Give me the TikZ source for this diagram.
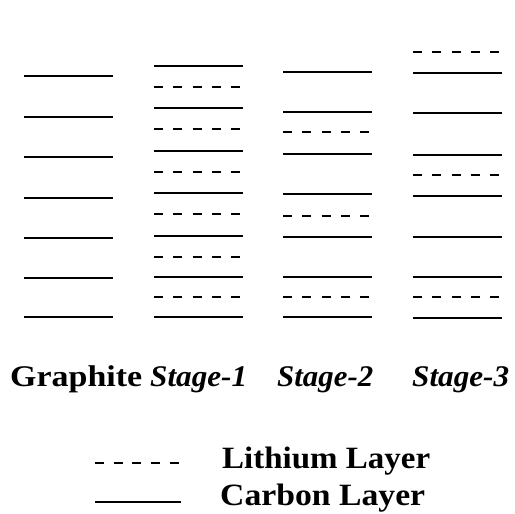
\documentclass[tikz,border=0pt]{standalone}
\usepackage{fontspec}
\usepackage{graphicx}
\setmainfont{Liberation Serif}
\tikzset{
  carbon/.style={line width=1.9pt},
  lithium/.style={line width=1.9pt, dash pattern=on 9pt off 10.3pt},
  lbl/.style={anchor=base west, inner sep=0pt, font=\fontsize{30}{30}\selectfont},
  leg/.style={anchor=base west, inner sep=0pt, font=\fontsize{31}{31}\selectfont}
}
\newcommand{\fitw}[2]{\resizebox{#1}{\height}{#2}}
\begin{document}
\begin{tikzpicture}[x=1pt,y=-1pt]
\useasboundingbox (0,0) rectangle (515,514);
% Graphite
\foreach \y in {76,117,157,198,238,278,317} \draw[carbon] (24,\y) -- (113,\y);
% Stage-1
\foreach \y in {66,108,151,193,236,277,317} \draw[carbon] (154,\y) -- (243,\y);
\foreach \y in {87,129,172,214,257,297} \draw[lithium] (154,\y) -- (242,\y);
% Stage-2
\foreach \y in {72,112,154,194,237,277,317} \draw[carbon] (283,\y) -- (372,\y);
\foreach \y in {132,216,297} \draw[lithium] (283,\y) -- (371,\y);
% Stage-3
\foreach \y in {73,113,155,196,237,277,318} \draw[carbon] (413,\y) -- (502,\y);
\foreach \y in {52,175,297} \draw[lithium] (413,\y) -- (501,\y);
% Column labels
\node[lbl] (g)  at (10,386)  {\fitw{132pt}{\bfseries Graphite}};
\node[lbl] (s1) at (150,386) {\fitw{97pt}{\bfseries\itshape Stage-1}};
\node[lbl] (s2) at (277,386) {\fitw{96pt}{\bfseries\itshape Stage-2}};
\node[lbl] (s3) at (412,386) {\fitw{97pt}{\bfseries\itshape Stage-3}};
% Legend
\draw[line width=1.9pt, dash pattern=on 9pt off 9.7pt] (95,463) -- (181,463);
\draw[carbon] (95,502) -- (181,502);
\node[leg] (li) at (222,468) {\fitw{208pt}{\bfseries Lithium Layer}};
\node[leg] (ca) at (220,505) {\fitw{205pt}{\bfseries Carbon Layer}};
\end{tikzpicture}
\end{document}
